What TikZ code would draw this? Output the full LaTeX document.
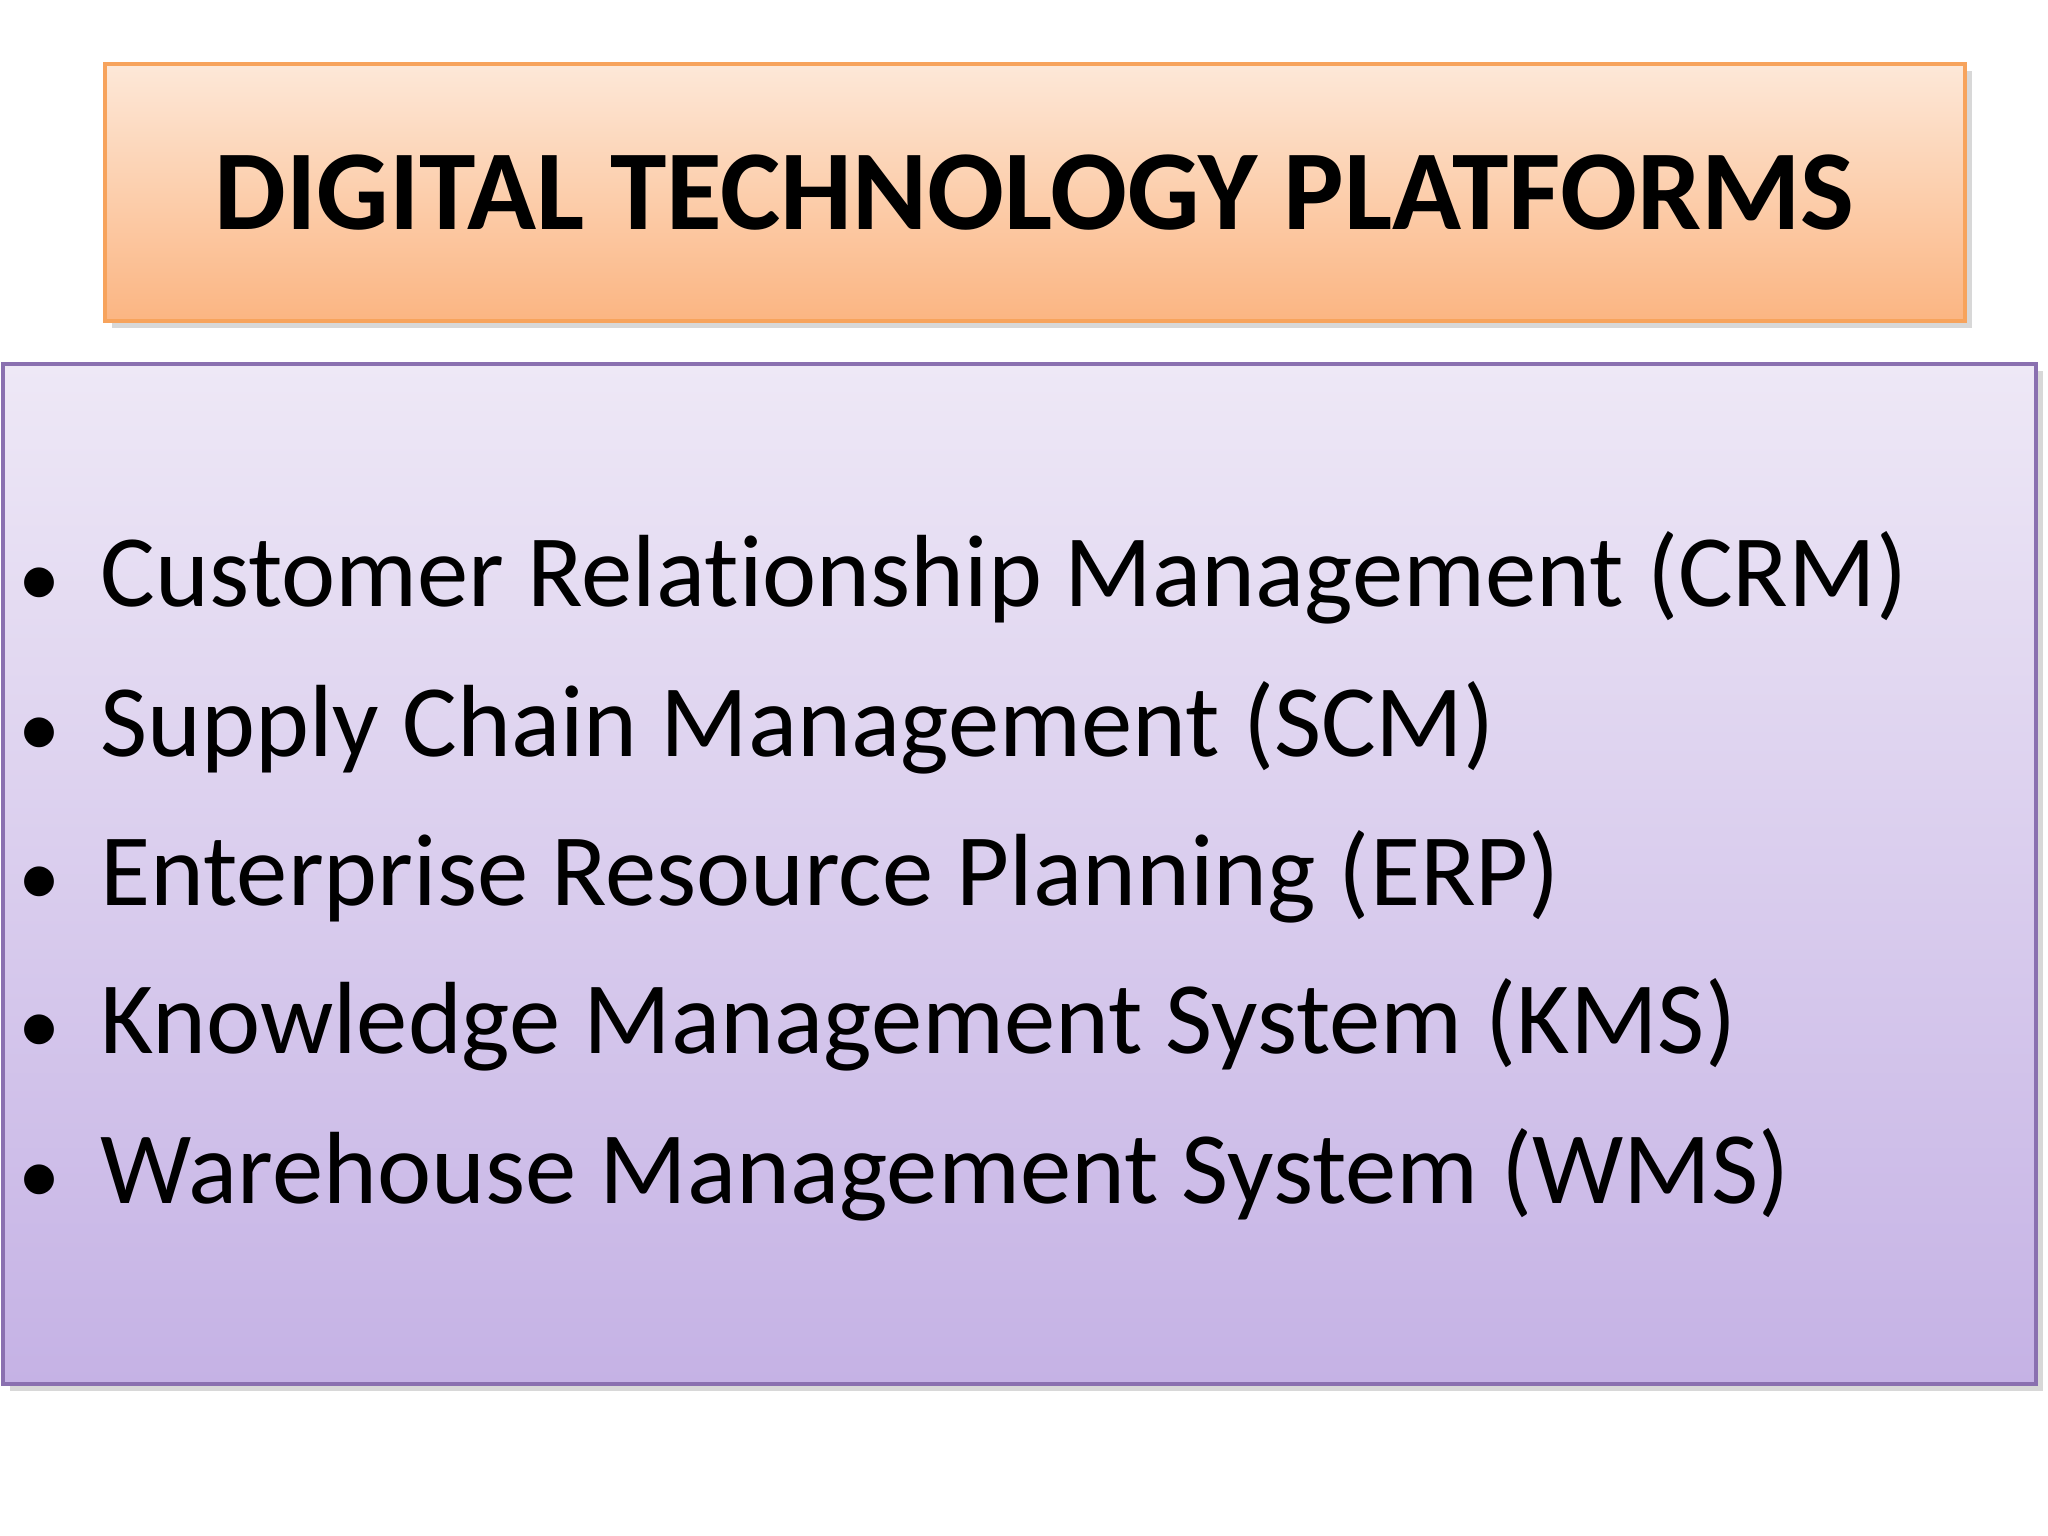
\documentclass[tikz,border=0pt]{standalone}
\usepackage{fontspec}
\setmainfont[Ligatures=NoCommon]{Carlito}
\usetikzlibrary{shadows}
\definecolor{ttop}{HTML}{FDE8D8}
\definecolor{tbot}{HTML}{FBB582}
\definecolor{tborder}{HTML}{F7A35C}
\definecolor{btop}{HTML}{EEE8F6}
\definecolor{bbot}{HTML}{C5B2E5}
\definecolor{bborder}{HTML}{8A70B0}
\tikzset{
  item/.style={anchor=base west, inner sep=0pt, font=\fontsize{29.2}{32}\selectfont},
  dot/.style={anchor=base, inner sep=0pt, font=\fontsize{24}{28}\selectfont}
}
\begin{document}
\begin{tikzpicture}[x=1cm,y=1cm]
\useasboundingbox[fill=white] (0,0) rectangle (20.48,-15.36);
\node[draw=tborder, line width=1pt, top color=ttop, bottom color=tbot, minimum width=18.6cm, minimum height=2.57cm, anchor=north west, drop shadow={opacity=0.3,shadow xshift=2pt,shadow yshift=-2pt}] (title) at (1.03,-0.62) {};
\node[font=\bfseries\fontsize{32.4}{36}\selectfont, inner sep=0pt] (tt) at (title.center) {DIGITAL TECHNOLOGY PLATFORMS};
\node[draw=bborder, line width=1pt, top color=btop, bottom color=bbot, minimum width=20.33cm, minimum height=10.2cm, anchor=north west, drop shadow={opacity=0.3,shadow xshift=2pt,shadow yshift=-2pt}] (body) at (0.01,-3.62) {};
\node[dot] (b1) at (0.40,-6.07) {•};
\node[item] (i1) at (1.0,-6.07) {Customer Relationship Management (CRM)};
\node[dot] (b2) at (0.40,-7.56) {•};
\node[item] (i2) at (1.0,-7.56) {Supply Chain Management (SCM)};
\node[dot] (b3) at (0.40,-9.05) {•};
\node[item] (i3) at (1.0,-9.05) {Enterprise Resource Planning (ERP)};
\node[dot] (b4) at (0.40,-10.54) {•};
\node[item] (i4) at (1.0,-10.54) {Knowledge Management System (KMS)};
\node[dot] (b5) at (0.40,-12.03) {•};
\node[item] (i5) at (1.0,-12.03) {Warehouse Management System (WMS)};
\end{tikzpicture}
\end{document}
